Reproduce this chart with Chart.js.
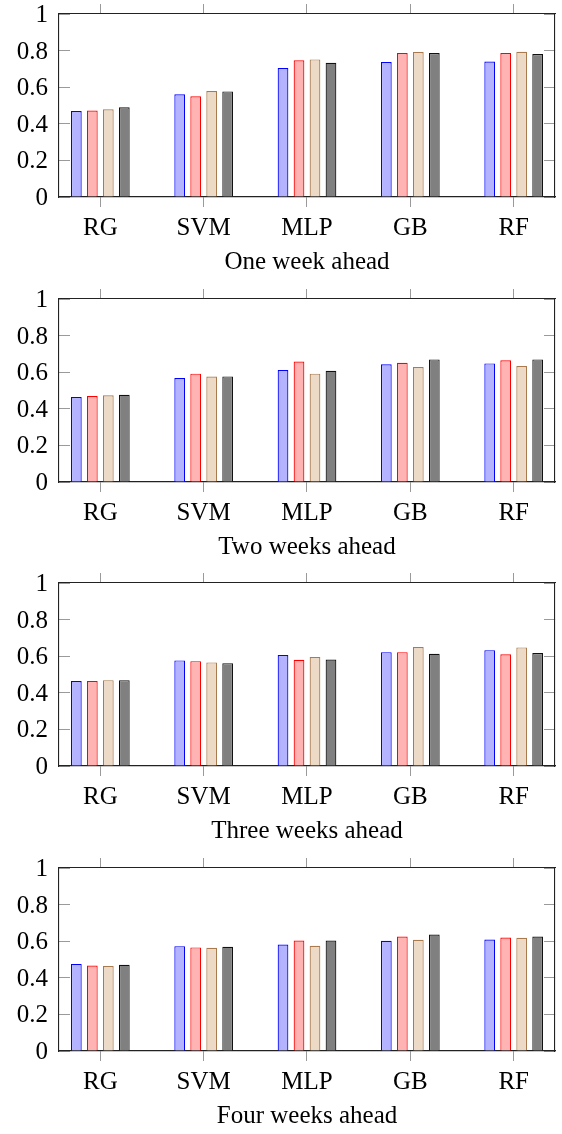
<!DOCTYPE html>
<html>
<head>
<meta charset="utf-8">
<script src="https://cdn.jsdelivr.net/npm/chart.js@4.4.1/dist/chart.umd.min.js"></script>
<style>
  html, body { margin: 0; padding: 0; background: #fff; overflow: hidden; }
  #page { position: relative; width: 562px; height: 1134px; }
  .panel { position: absolute; left: 0; width: 562px; height: 284px; }
</style>
</head>
<body>
<div id="page"></div>
<script>
// categories and tick labels
const categories = ['RG', 'SVM', 'MLP', 'GB', 'RF'];
const yTicks = [0, 0.2, 0.4, 0.6, 0.8, 1];
const panelTitles = ['One week ahead', 'Two weeks ahead', 'Three weeks ahead', 'Four weeks ahead'];

// one row per series (blue, red, tan, gray), one value per category
const week1 = [
  [0.470, 0.561, 0.705, 0.738, 0.740],
  [0.472, 0.550, 0.747, 0.787, 0.787],
  [0.479, 0.579, 0.752, 0.792, 0.794],
  [0.490, 0.577, 0.734, 0.787, 0.781]
];
const week2 = [
  [0.464, 0.568, 0.612, 0.643, 0.648],
  [0.470, 0.592, 0.658, 0.652, 0.665],
  [0.474, 0.576, 0.592, 0.628, 0.634],
  [0.477, 0.577, 0.608, 0.670, 0.670]
];
const week3 = [
  [0.464, 0.577, 0.606, 0.622, 0.633],
  [0.464, 0.573, 0.580, 0.622, 0.611],
  [0.469, 0.566, 0.595, 0.650, 0.648],
  [0.469, 0.562, 0.582, 0.613, 0.617]
];
const week4 = [
  [0.476, 0.573, 0.582, 0.602, 0.609],
  [0.467, 0.566, 0.604, 0.626, 0.620],
  [0.464, 0.564, 0.575, 0.608, 0.619],
  [0.471, 0.569, 0.604, 0.637, 0.626]
];

const fills = ['#b3b3ff', '#ffb3b3', '#ecd9c6', '#808080'];
const strokes = ['#0000ff', '#ff0000', '#a87a4e', '#111111'];

Chart.defaults.font.family = "'Liberation Serif', 'Times New Roman', serif";
Chart.defaults.color = '#000';

const tickColor = '#9a9a9a';
const frameColor = '#222';
const labelFont = { size: 25, lineHeight: 1.2 };

const catTicks = (s) => { s.ticks = categories.map((c, i) => ({ value: i })); };
const valTicks = (s) => { s.ticks = yTicks.map(v => ({ value: v })); };
// sin padding extra de las etiquetas en los extremos
const sinPadding = (s) => { s.paddingTop = 0; s.paddingBottom = 0; s.paddingLeft = 0; s.paddingRight = 0; };

function crearPanel(idx, series) {
  const div = document.createElement('div');
  div.className = 'panel';
  div.style.top = Math.round(idx * 284.67) + 'px';
  const canvas = document.createElement('canvas');
  canvas.width = 562;
  canvas.height = 284;
  div.appendChild(canvas);
  document.getElementById('page').appendChild(div);

  const datasets = series.map((vals, k) => ({
    label: 'Serie ' + (k + 1),
    data: vals.map((v, i) => ({ x: i, y: v })),
    backgroundColor: fills[k],
    borderColor: strokes[k],
    borderWidth: 1.2,
    borderSkipped: 'start',
    categoryPercentage: 0.619,
    barPercentage: 0.67,
    xAxisID: 'x',
    yAxisID: 'y'
  }));

  new Chart(canvas, {
    type: 'bar',
    data: { datasets },
    options: {
      responsive: false,
      animation: false,
      layout: { padding: 0 },
      plugins: { legend: { display: false }, tooltip: { enabled: false } },
      scales: {
        x: {
          type: 'linear', position: 'bottom', min: -0.4, max: 4.4, offset: false, z: 1,
          afterBuildTicks: catTicks,
          afterFit: (s) => { s.height = 87; sinPadding(s); },
          grid: { offset: false, drawOnChartArea: false, drawTicks: true, tickLength: 10, color: tickColor, lineWidth: 1 },
          border: { display: true, color: frameColor, width: 1.3 },
          ticks: { font: labelFont, padding: 6, maxRotation: 0, autoSkip: false,
                   callback: (v) => categories[v] },
          title: { display: true, text: panelTitles[idx], font: labelFont, color: '#000',
                   padding: { top: 0, bottom: 7 } }
        },
        xTop: {
          type: 'linear', position: 'top', min: -0.4, max: 4.4, offset: false, z: 1,
          afterBuildTicks: catTicks,
          afterFit: (s) => { s.height = 14; sinPadding(s); },
          grid: { offset: false, drawOnChartArea: false, drawTicks: true, tickLength: 10, color: tickColor, lineWidth: 1 },
          border: { display: true, color: frameColor, width: 1.1 },
          ticks: { display: false }
        },
        y: {
          type: 'linear', position: 'left', min: 0, max: 1, z: 1,
          afterBuildTicks: valTicks,
          afterFit: (s) => { s.width = 59; sinPadding(s); },
          grid: { drawOnChartArea: false, drawTicks: true, tickLength: -11, color: tickColor, lineWidth: 1 },
          border: { display: true, color: frameColor, width: 1.1 },
          ticks: { font: labelFont, padding: 22, labelOffset: 1.5, autoSkip: false,
                   callback: (v) => String(+v.toFixed(1)) }
        },
        yRight: {
          type: 'linear', position: 'right', min: 0, max: 1, z: 1,
          afterBuildTicks: valTicks,
          afterFit: (s) => { s.width = 7; sinPadding(s); },
          grid: { drawOnChartArea: false, drawTicks: true, tickLength: -11, color: tickColor, lineWidth: 1 },
          border: { display: true, color: frameColor, width: 1.1 },
          ticks: { display: false }
        }
      }
    }
  });
}

[week1, week2, week3, week4].forEach((s, i) => crearPanel(i, s));
</script>
</body>
</html>
